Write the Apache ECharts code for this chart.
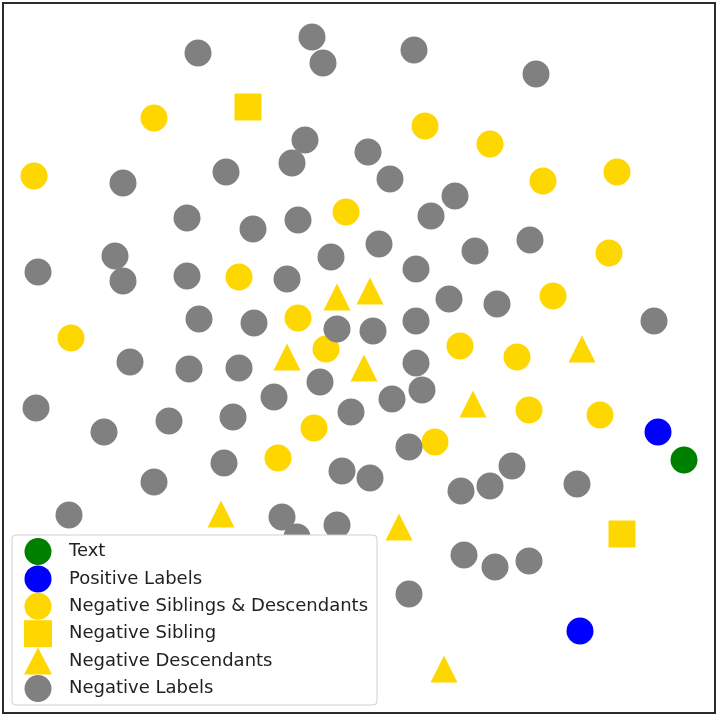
<!DOCTYPE html>
<html>
<head>
<meta charset="utf-8">
<script src="https://cdn.jsdelivr.net/npm/echarts@6/dist/echarts.min.js"></script>
<style>
  html, body { margin: 0; padding: 0; background: #fff; }
  #chart { width: 718px; height: 716px; }
</style>
</head>
<body>
<div id="chart"></div>
<script>
// 2-D embedding coordinates, [x, y]
const textPoints = [[68.1, 25.3]];
const positiveLabels = [[65.5, 28.1], [57.7, 8.2]];
const negSiblingsDescendants = [
  [15.1, 59.5], [3.1, 53.7], [42.2, 58.7], [48.7, 56.9], [54.0, 53.2],
  [61.4, 54.1], [34.3, 50.1], [23.6, 43.6], [60.6, 46.0], [29.5, 39.5],
  [6.8, 37.5], [32.3, 36.4], [55.0, 41.7], [45.7, 36.7], [51.4, 35.6],
  [52.6, 30.3], [59.7, 29.8], [31.1, 28.5], [43.2, 27.1], [27.5, 25.5]
];
const negSibling = [[24.5, 60.6], [61.9, 17.9]];
const negDescendants = [
  [33.4, 41.6], [36.7, 42.2], [28.4, 35.6], [36.1, 34.5], [57.9, 36.4],
  [47.0, 30.9], [21.8, 19.9], [39.6, 18.6], [44.1, 4.4]
];
const negLabels = [
  [19.5, 66.0], [30.9, 67.6], [32.0, 65.0], [41.1, 66.3], [53.3, 63.9],
  [30.2, 57.3], [28.9, 55.0], [36.5, 56.1], [22.3, 54.1], [12.0, 53.0],
  [38.7, 53.4], [45.2, 51.7], [42.8, 49.7], [18.4, 49.5], [25.0, 48.4],
  [29.5, 49.3], [37.6, 46.9], [32.8, 45.6], [47.2, 46.2], [52.7, 47.3],
  [3.5, 44.1], [11.2, 45.7], [12.0, 43.2], [18.4, 43.7], [28.4, 43.4],
  [41.3, 44.4], [44.6, 41.4], [49.4, 40.9], [19.6, 39.4], [25.1, 39.0],
  [33.4, 38.4], [37.0, 38.2], [41.3, 39.2], [65.1, 39.2], [12.7, 35.1],
  [18.6, 34.4], [23.6, 34.5], [31.7, 33.1], [41.3, 35.0], [41.9, 32.3],
  [27.1, 31.6], [38.9, 31.4], [34.8, 30.1], [3.3, 30.5], [10.1, 28.1],
  [16.6, 29.2], [23.0, 29.6], [22.1, 25.0], [40.6, 26.6], [33.9, 24.2],
  [36.7, 23.5], [15.1, 23.1], [45.8, 22.2], [48.7, 22.7], [50.9, 24.7],
  [57.4, 22.9], [6.6, 19.8], [27.9, 19.6], [33.4, 18.8], [29.4, 17.6],
  [46.1, 15.8], [49.2, 14.6], [52.6, 15.2], [40.6, 11.9]
];

const seriesNames = [
  "Text", "Positive Labels", "Negative Siblings & Descendants",
  "Negative Sibling", "Negative Descendants", "Negative Labels"
];

const scatter = (name, data, color, symbol) => ({
  name,
  type: "scatter",
  data,
  symbol,
  symbolSize: 27,
  itemStyle: { color, opacity: 1 },
  emphasis: { disabled: true }
});

const option = {
  animation: false,
  grid: {
    left: 3, top: 3, width: 712, height: 710,
    show: true, borderColor: "#2b2b2b", borderWidth: 2, backgroundColor: "#fff"
  },
  xAxis: {
    type: "value", min: 0, max: 71.2,
    axisLine: { show: false }, axisTick: { show: false },
    axisLabel: { show: false }, splitLine: { show: false }
  },
  yAxis: {
    type: "value", min: 0, max: 71.0,
    axisLine: { show: false }, axisTick: { show: false },
    axisLabel: { show: false }, splitLine: { show: false }
  },
  legend: {
    data: seriesNames,
    orient: "vertical",
    left: 12, top: 535,
    itemWidth: 28, itemHeight: 27, itemGap: 0.4,
    padding: [3, 9, 3, 12],
    backgroundColor: "#fff",
    borderColor: "#d0d0d0", borderWidth: 1, borderRadius: 4,
    selectedMode: false,
    textStyle: {
      fontFamily: "DejaVu Sans", fontSize: 18, color: "#222",
      padding: [0, 0, 0, 12]
    }
  },
  series: [
    scatter(seriesNames[0], textPoints, "#008000", "circle"),
    scatter(seriesNames[1], positiveLabels, "#0000ff", "circle"),
    scatter(seriesNames[2], negSiblingsDescendants, "#ffd700", "circle"),
    scatter(seriesNames[3], negSibling, "#ffd700", "rect"),
    scatter(seriesNames[4], negDescendants, "#ffd700", "triangle"),
    scatter(seriesNames[5], negLabels, "#808080", "circle")
  ]
};

const myChart = echarts.init(document.getElementById("chart"));
myChart.setOption(option);
</script>
</body>
</html>
